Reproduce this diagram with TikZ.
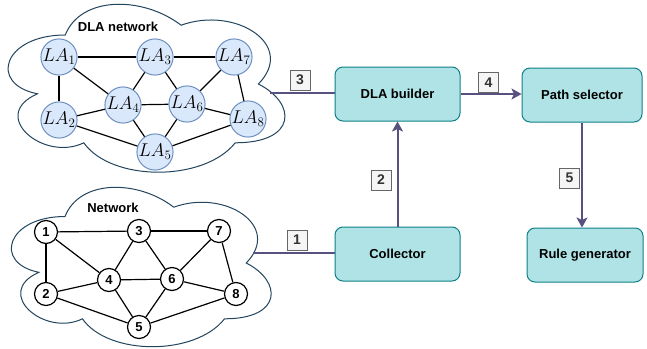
\RequirePackage{fix-cm}
\documentclass[tikz,border=0pt]{standalone}
\usepackage{fontspec}
\setmainfont{Liberation Sans}
\usetikzlibrary{arrows.meta}
\definecolor{cloudcol}{HTML}{23445D}
\definecolor{boxfill}{HTML}{B0E3E6}
\definecolor{boxline}{HTML}{0E8088}
\definecolor{lafill}{HTML}{DAE8FC}
\definecolor{laline}{HTML}{6C8EBF}
\definecolor{flow}{HTML}{56517E}
\definecolor{tagfill}{HTML}{F5F5F5}
\definecolor{tagline}{HTML}{666666}
\definecolor{tagtext}{HTML}{333333}
\tikzset{
	module/.style = {rectangle, rounded corners = 8pt, draw = boxline, fill = boxfill, line width = 1pt, minimum width = 125pt, minimum height = 54pt, font = \fontsize{13}{15}\selectfont\bfseries},
	la/.style = {circle, draw = laline, fill = lafill, line width = 1pt, minimum size = 33pt, inner sep = 0pt, font = \fontsize{18.5}{21}\selectfont},
	vertex/.style = {circle, draw, fill = white, line width = 1.2pt, minimum size = 23pt, inner sep = 0pt, font = \fontsize{13}{15}\selectfont\bfseries},
	link/.style = {line width = 1.2pt},
	flowline/.style = {draw = flow, line width = 2pt},
	flowarrow/.style = {flowline, -{Stealth[length = 10pt, width = 11pt, inset = 2.5pt]}},
	tag/.style = {rectangle, draw = tagline, fill = tagfill, line width = 1pt, minimum size = 20pt, inner sep = 0pt, text = tagtext, font = \fontsize{14}{16}\selectfont\bfseries},
	title/.style = {font = \fontsize{13}{15}\selectfont\bfseries},
	cloudline/.style = {draw = cloudcol, line width = 1pt}
}
% cloud outline: x0, y0, width, height
\newcommand{\netcloud}[4]{%
	\draw[cloudline, shift = {(#1,#2)}, xscale = #3, yscale = #4]
	(0.25,0.25) .. controls (0.05,0.25) and (0,0.5) .. (0.16,0.55)
	.. controls (0,0.66) and (0.18,0.9) .. (0.31,0.8)
	.. controls (0.4,1) and (0.7,1) .. (0.8,0.8)
	.. controls (1,0.8) and (1,0.6) .. (0.875,0.5)
	.. controls (1,0.3) and (0.8,0.1) .. (0.625,0.2)
	.. controls (0.5,0.05) and (0.3,0.05) .. (0.25,0.25) -- cycle;}
\begin{document}
\begin{tikzpicture}[x = 1pt, y = -1pt]
	\useasboundingbox (0,0) rectangle (647,348);
	% the two networks
	\netcloud{-12}{-14}{309}{196}
	\netcloud{-7.5}{170}{290}{186}
	\node[title] (dlatitle) at (118,27) {DLA network};
	\node[title] (nettitle) at (113,208) {Network};
	\node[la] (la1) at (59,57) {$LA_1$};
	\node[la] (la3) at (155,57) {$LA_3$};
	\node[la] (la7) at (234,57) {$LA_7$};
	\node[la] (la4) at (123,105) {$LA_4$};
	\node[la] (la6) at (187,104) {$LA_6$};
	\node[la] (la2) at (59,120) {$LA_2$};
	\node[la] (la8) at (248,119) {$LA_8$};
	\node[la] (la5) at (155,152) {$LA_5$};
	\node[vertex] (n1) at (46,232) {1};
	\node[vertex] (n3) at (139,231) {3};
	\node[vertex] (n7) at (219,231) {7};
	\node[vertex] (n4) at (109,280) {4};
	\node[vertex] (n6) at (172,279) {6};
	\node[vertex] (n2) at (46,294) {2};
	\node[vertex] (n8) at (236,294) {8};
	\node[vertex] (n5) at (139,327) {5};
	\foreach \a/\b in {1/3,3/7,1/2,1/4,3/4,3/6,7/6,7/8,4/6,2/4,2/5,4/5,6/5,6/8,5/8}
	{
		\draw[link] (la\a) -- (la\b);
		\draw[link] (n\a) -- (n\b);
	}
	% modules
	\node[module] (builder) at (397.5,94) {DLA builder};
	\node[module] (collector) at (397.5,254) {Collector};
	\node[module, minimum width = 120pt] (selector) at (582,95) {Path selector};
	\node[module, minimum width = 116pt] (rulegen) at (585,255) {Rule generator};
	\coordinate (dlaout) at (270,93);
	\coordinate (netout) at (253,253);
	\draw[flowline] (netout) -- (netout -| collector.west);
	\draw[flowarrow] (collector.north) -- (builder.south);
	\draw[flowline] (dlaout) -- (dlaout -| builder.west);
	\draw[flowarrow] (builder.east) -- (builder.east -| selector.west);
	\draw[flowarrow] (selector.south) -- (selector.south |- rulegen.north);
	\node[tag] (t1) at (297,240) {1};
	\node[tag] (t2) at (381,180) {2};
	\node[tag] (t3) at (300,80) {3};
	\node[tag] (t4) at (488.5,82.5) {4};
	\node[tag] (t5) at (569.5,178) {5};
\end{tikzpicture}
\end{document}
